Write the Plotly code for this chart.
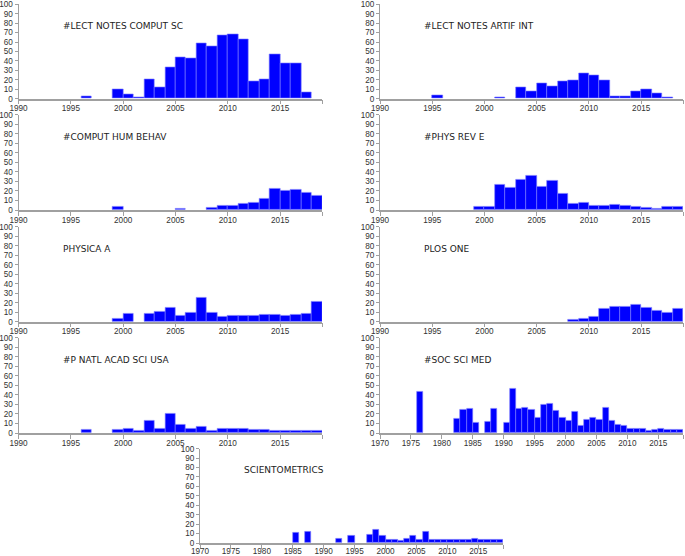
import plotly.graph_objects as go

# ---------------- data ----------------
lncs_years = [1996, 1999, 2000, 2001, 2002, 2003, 2004, 2005, 2006, 2007, 2008, 2009, 2010, 2011, 2012, 2013, 2014, 2015, 2016, 2017]
lncs_counts = [3, 10, 5, 2, 21, 12, 33, 44, 43, 59, 55, 67, 68, 63, 18, 21, 47, 37, 38, 7]

lnai_years = [1995, 2001, 2003, 2004, 2005, 2006, 2007, 2008, 2009, 2010, 2011, 2012, 2013, 2014, 2015, 2016, 2017]
lnai_counts = [4, 2, 12, 8, 16, 13, 18, 20, 27, 25, 20, 3, 3, 8, 10, 6, 2]

chb_years = [1999, 2005, 2008, 2009, 2010, 2011, 2012, 2013, 2014, 2015, 2016, 2017, 2018]
chb_counts = [3, 1, 2, 4, 5, 7, 8, 12, 22, 20, 21, 18, 15]

pre_years = [1999, 2000, 2001, 2002, 2003, 2004, 2005, 2006, 2007, 2008, 2009, 2010, 2011, 2012, 2013, 2014, 2015, 2016, 2017, 2018]
pre_counts = [3, 3, 27, 23, 32, 36, 24, 31, 17, 7, 8, 4, 4, 6, 4, 3, 2, 1, 3, 3]

physa_years = [1999, 2000, 2002, 2003, 2004, 2005, 2006, 2007, 2008, 2009, 2010, 2011, 2012, 2013, 2014, 2015, 2016, 2017, 2018]
physa_counts = [3, 8, 8, 11, 15, 6, 10, 25, 9, 5, 6, 6, 6, 7, 7, 6, 7, 8, 21]

plos_years = [2008, 2009, 2010, 2011, 2012, 2013, 2014, 2015, 2016, 2017, 2018]
plos_counts = [2, 3, 5, 14, 16, 16, 18, 15, 12, 10, 14]

pnas_years = [1996, 1999, 2000, 2001, 2002, 2003, 2004, 2005, 2006, 2007, 2008, 2009, 2010, 2011, 2012, 2013, 2014, 2015, 2016, 2017, 2018]
pnas_counts = [3, 3, 5, 2, 13, 4, 20, 9, 5, 7, 2, 4, 5, 5, 3, 3, 2, 2, 2, 2, 2]

ssm_years = [1976, 1982, 1983, 1984, 1985, 1987, 1988, 1990, 1991, 1992, 1993, 1994, 1995, 1996, 1997, 1998, 1999,
             2000, 2001, 2002, 2003, 2004, 2005, 2006, 2007, 2008, 2009, 2010, 2011, 2012, 2013, 2014, 2015, 2016, 2017, 2018]
ssm_counts = [43, 15, 24, 26, 11, 12, 25, 11, 47, 25, 27, 24, 16, 30, 31, 23, 16,
              13, 22, 8, 14, 16, 14, 27, 13, 9, 8, 5, 5, 5, 2, 3, 5, 3, 3, 3]

scim_years = [1985, 1987, 1992, 1994, 1997, 1998, 1999, 2000, 2001, 2002, 2003, 2004, 2005, 2006, 2007, 2008,
              2009, 2010, 2011, 2012, 2013, 2014, 2015, 2016, 2017, 2018]
scim_counts = [11, 12, 5, 8, 9, 14, 8, 3, 4, 2, 5, 8, 3, 12, 4, 3,
               3, 3, 3, 3, 3, 5, 4, 4, 3, 3]

panels = [
    ("#LECT NOTES COMPUT SC", lncs_years, lncs_counts, 1990),
    ("#LECT NOTES ARTIF INT", lnai_years, lnai_counts, 1990),
    ("#COMPUT HUM BEHAV", chb_years, chb_counts, 1990),
    ("#PHYS REV E", pre_years, pre_counts, 1990),
    ("PHYSICA A", physa_years, physa_counts, 1990),
    ("PLOS ONE", plos_years, plos_counts, 1990),
    ("#P NATL ACAD SCI USA", pnas_years, pnas_counts, 1990),
    ("#SOC SCI MED", ssm_years, ssm_counts, 1970),
    ("SCIENTOMETRICS", scim_years, scim_counts, 1970),
]

# ---------------- layout geometry (pixels) ----------------
W, H = 685, 556
col_x = [(18.5, 322), (380, 683)]
bottom_x = (200, 503)
row_y = [(4.3, 98.7), (114.7, 210), (226.7, 321.7), (337.7, 433), (448.7, 543)]

fig = go.Figure()
layout = dict(
    width=W, height=H, margin=dict(l=0, r=0, t=0, b=0, autoexpand=False),
    paper_bgcolor="white", plot_bgcolor="white", showlegend=False,
    bargap=0, annotations=[], template="none",
)

tick_font = dict(family="Liberation Sans, Arial, sans-serif", size=8.2, color="#333")
axis_col = "#a0a0a0"

for i, (name, yrs, cnts, x0) in enumerate(panels):
    if i < 8:
        r, c = divmod(i, 2)
        xa = col_x[c]
    else:
        r = 4
        xa = bottom_x
    ya = row_y[r]
    n = i + 1
    xname = "xaxis" if n == 1 else f"xaxis{n}"
    yname = "yaxis" if n == 1 else f"yaxis{n}"
    xr = "x" if n == 1 else f"x{n}"
    yr = "y" if n == 1 else f"y{n}"

    fig.add_trace(go.Bar(
        x=yrs, y=cnts, offset=0, width=1,
        marker=dict(color="#0000ff", line=dict(color="#7a7aff", width=0.6)),
        xaxis=xr, yaxis=yr, hoverinfo="x+y",
    ))

    tv = list(range(x0, 2016, 5)) + [2019]
    tt = [str(v) for v in range(x0, 2016, 5)] + [""]
    layout[xname] = dict(
        domain=[xa[0] / W, xa[1] / W], anchor=yr, range=[x0, 2019],
        tickvals=tv, ticktext=tt, ticks="outside", ticklen=4, tickcolor=axis_col,
        showline=True, linecolor=axis_col, linewidth=1.5, showgrid=False, zeroline=False,
        tickfont=tick_font, fixedrange=True, automargin=False,
        ticklabeloverflow="allow", ticklabelstandoff=(-5 if r == 4 else -3),
    )
    layout[yname] = dict(
        domain=[1 - ya[1] / H, 1 - ya[0] / H], anchor=xr, range=[0, 100],
        tickvals=list(range(0, 101, 10)), ticks="outside", ticklen=3, tickcolor=axis_col,
        showline=True, linecolor=axis_col, linewidth=1, showgrid=False, zeroline=False,
        tickfont=tick_font, fixedrange=True, automargin=False,
        ticklabeloverflow="allow",
    )
    layout["annotations"].append(dict(
        text=name, xref=f"{xr} domain", yref=f"{yr} domain",
        x=0.139, y=0.77, xanchor="left", yanchor="middle", showarrow=False,
        font=dict(family="DejaVu Sans, Verdana, sans-serif", size=9, color="#222"),
    ))

fig.update_layout(**layout)
fig.write_html(
    "out.html",
    config={"displayModeBar": False},
    post_script="document.body.style.margin='0';document.body.style.overflow='hidden';",
)
